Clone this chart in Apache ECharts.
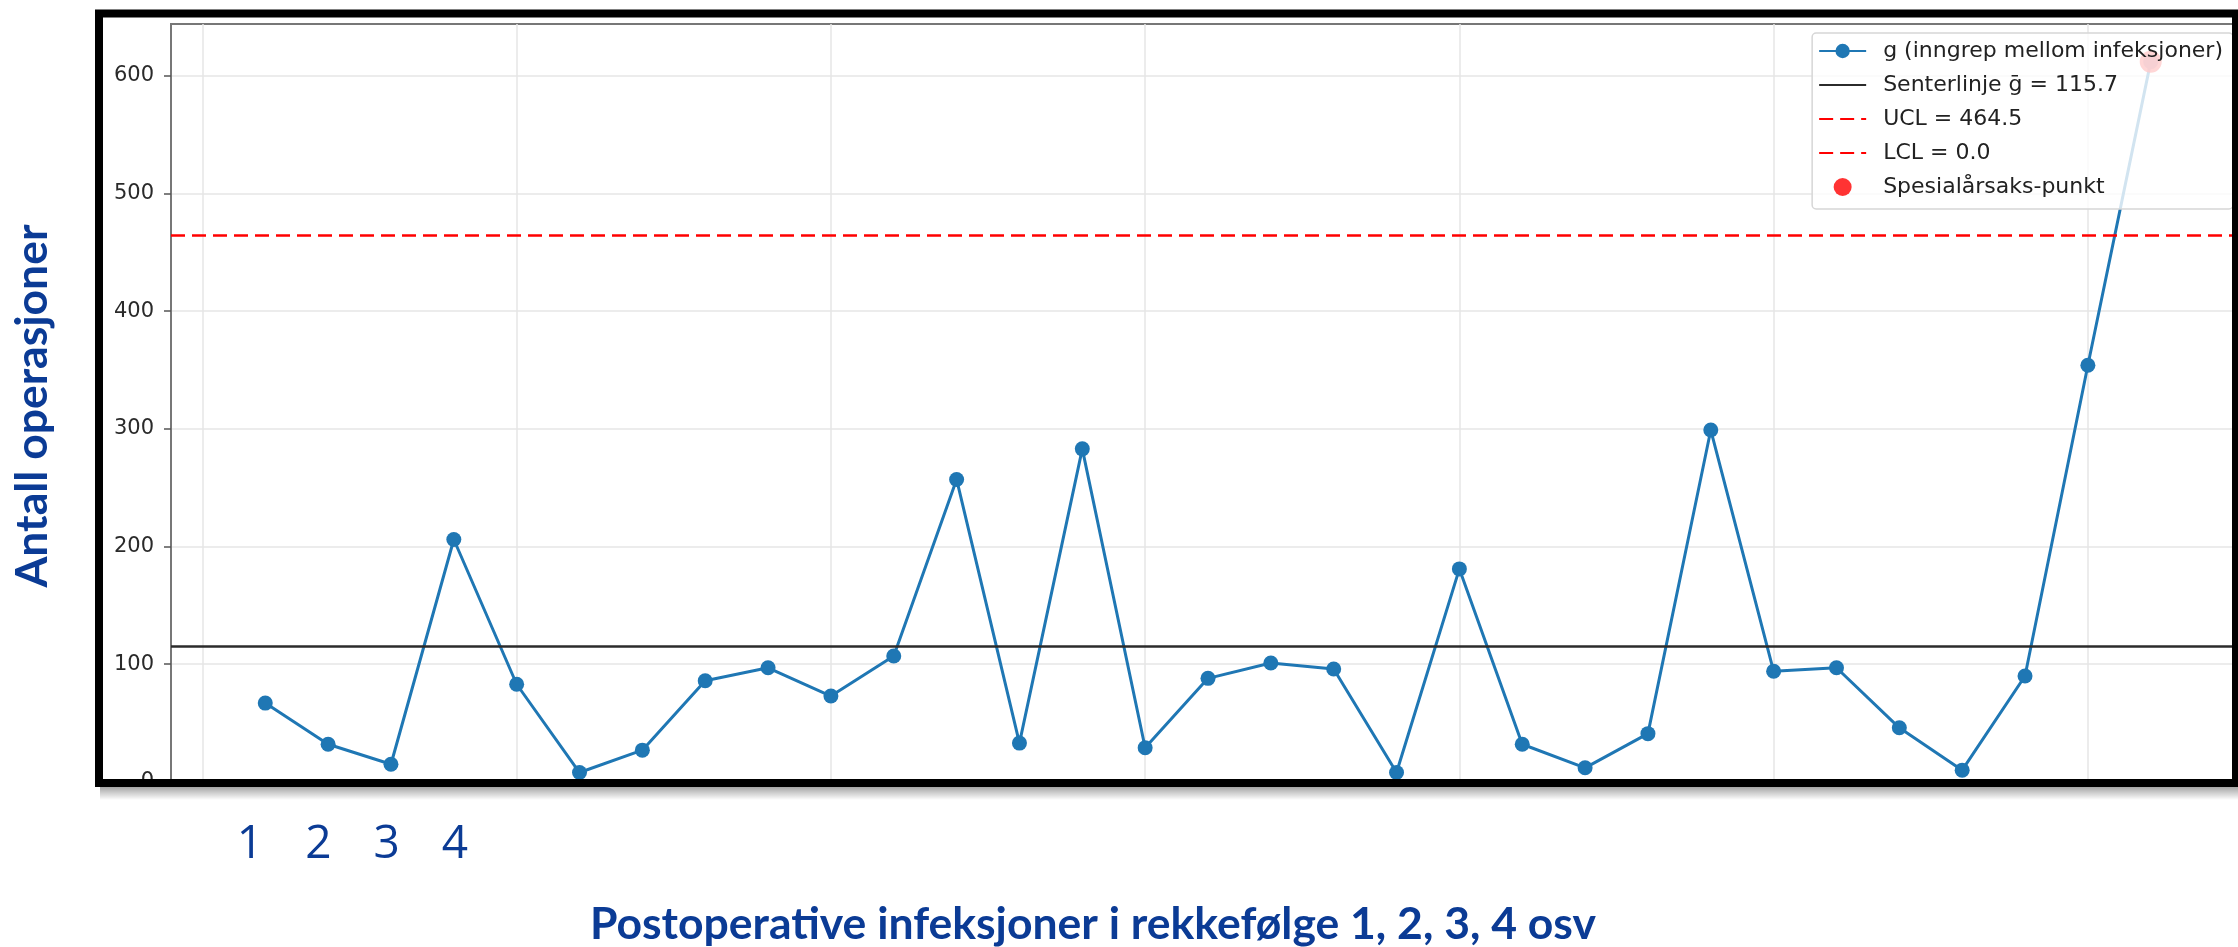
<!DOCTYPE html>
<html>
<head>
<meta charset="utf-8">
<script src="https://cdn.jsdelivr.net/npm/echarts@6/dist/echarts.min.js"></script>
<style>
html,body{margin:0;padding:0;background:#ffffff;}
#c{width:2238px;height:947px;}
</style>
</head>
<body>
<div id="c"></div>
<script>
// ---- data ----
const infectionNo = [1,2,3,4,5,6,7,8,9,10,11,12,13,14,15,16,17,18,19,20,21,22,23,24,25,26,27,28,29,30,31];
const gValues = [67,32,15,206,83,8,27,86,97,73,107,257,33,283,29,88,101,96,8,181,32,12,41,299,94,97,46,10,90,354,612];
const centerValue = 115.7;
const uclValue = 464.5;
const lclValue = 0.0;
const yTicks = [0,100,200,300,400,500,600];
const xGridTicks = [0,5,10,15,20,25,30];
const yLimits = [-23, 644];
const xLimits = [-0.5, 32.5];
const slideTickLabels = ['1','2','3','4'];
const yTitle = 'Antall operasjoner';
const xTitle = 'Postoperative infeksjoner i rekkefølge 1, 2, 3, 4 osv';
const nameG = 'g (inngrep mellom infeksjoner)';
const nameCenter = 'Senterlinje \u1E21 = ' + centerValue.toFixed(1);
const nameUCL = 'UCL = ' + uclValue.toFixed(1);
const nameLCL = 'LCL = ' + lclValue.toFixed(1);
const nameSpecial = 'Spesialårsaks-punkt';

const gData = infectionNo.map((x, i) => [x, gValues[i]]);
const specialData = gData.filter(d => d[1] > uclValue || d[1] < lclValue);

const blue = '#1f77b4';
const slideBlue = '#0b3b95';
const gridColor = '#e6e6e6';
const titleFont = "Lato, sans-serif";

const chart = echarts.init(document.getElementById('c'), null, {renderer: 'canvas'});

const hLine = (name, val, color, type) => ({
  name: name,
  type: 'line',
  data: [],
  symbol: 'none',
  lineStyle: {color: color, width: 2.5, type: type},
  itemStyle: {color: color},
  markLine: {
    silent: true,
    symbol: ['none', 'none'],
    label: {show: false},
    lineStyle: {color: color, width: 2.5, type: type},
    emphasis: {disabled: true},
    data: [{yAxis: val}]
  },
  z: 2
});

const slideLabelGraphics = slideTickLabels.map((t, i) => ({
  type: 'text',
  x: 250 + i * 68.3,
  y: 845,
  z: 110,
  silent: true,
  style: {
    text: t,
    textAlign: 'center',
    textVerticalAlign: 'middle',
    font: "46px 'Open Sans', sans-serif",
    fill: slideBlue
  }
}));

const option = {
  animation: false,
  backgroundColor: '#ffffff',
  textStyle: {fontFamily: 'DejaVu Sans'},
  grid: {
    left: 171, top: 24, right: -7, bottom: 138,
    show: true,
    borderColor: '#777777',
    borderWidth: 2,
    backgroundColor: 'transparent',
    containLabel: false,
    outerBoundsMode: 'none'
  },
  xAxis: {
    type: 'value',
    min: xLimits[0],
    max: xLimits[1],
    axisLine: {show: false, onZero: false},
    axisLabel: {show: false, customValues: xGridTicks},
    axisTick: {show: false, customValues: xGridTicks},
    splitLine: {show: true, customValues: xGridTicks, lineStyle: {color: gridColor, width: 1.5}}
  },
  yAxis: {
    type: 'value',
    min: yLimits[0],
    max: yLimits[1],
    axisLine: {show: true, onZero: false, lineStyle: {color: '#777777', width: 2}},
    axisTick: {show: true, length: 7, customValues: yTicks, lineStyle: {color: '#555555', width: 1.5}},
    axisLabel: {
      customValues: yTicks, margin: 17,
      color: '#2a2a2a', fontFamily: 'DejaVu Sans', fontSize: 21,
      formatter: '{t|{value}}',
      rich: {t: {fontSize: 21, fontFamily: 'DejaVu Sans', color: '#2a2a2a'}}
    },
    splitLine: {show: true, customValues: yTicks, lineStyle: {color: gridColor, width: 1.5}}
  },
  legend: {
    orient: 'vertical',
    right: 5,
    top: 33,
    z: 10,
    padding: [6, 10, 10, 6],
    itemWidth: 47,
    itemHeight: 18,
    itemGap: 10,
    backgroundColor: 'rgba(255,255,255,0.8)',
    borderColor: '#d6d6d6',
    borderWidth: 1.5,
    borderRadius: 4,
    selectedMode: false,
    textStyle: {fontFamily: 'DejaVu Sans', fontSize: 22, color: '#222222', lineHeight: 24, padding: [0, 0, 0, 12]},
    data: [
      nameG,
      {name: nameCenter, itemStyle: {opacity: 0}},
      {name: nameUCL, itemStyle: {opacity: 0}},
      {name: nameLCL, itemStyle: {opacity: 0}},
      nameSpecial
    ]
  },
  series: [
    {
      name: nameG,
      type: 'line',
      data: gData,
      symbol: 'circle',
      symbolSize: 15,
      lineStyle: {color: blue, width: 3},
      itemStyle: {color: blue},
      z: 3
    },
    hLine(nameCenter, centerValue, '#2b2b2b', 'solid'),
    hLine(nameUCL, uclValue, '#ff0000', [14, 7]),
    hLine(nameLCL, lclValue, '#ff0000', [14, 7]),
    {
      name: nameSpecial,
      type: 'scatter',
      data: specialData,
      symbol: 'circle',
      symbolSize: 22,
      itemStyle: {color: '#ff0000'},
      z: 3
    }
  ],
  graphic: [
    {type: 'rect', z: 90, silent: true, shape: {x: 0, y: 787, width: 2238, height: 160}, style: {fill: '#ffffff'}},
    {type: 'rect', z: 91, silent: true, shape: {x: 100, y: 787, width: 2138, height: 13},
      style: {fill: new echarts.graphic.LinearGradient(0, 0, 0, 1, [
        {offset: 0, color: 'rgba(0,0,0,0.35)'}, {offset: 1, color: 'rgba(0,0,0,0)'}])}},
    {type: 'rect', z: 100, silent: true, shape: {x: 99, y: 13.5, width: 2137, height: 769.5},
      style: {fill: 'none', stroke: '#000000', lineWidth: 8}},
    {type: 'text', z: 110, silent: true, x: 33, y: 406, rotation: Math.PI / 2,
      style: {text: yTitle, textAlign: 'center', textVerticalAlign: 'middle',
        font: "bold 44.5px " + titleFont, fill: slideBlue}},
    {type: 'text', z: 110, silent: true, x: 1093, y: 925,
      style: {text: xTitle, textAlign: 'center', textVerticalAlign: 'middle',
        font: "bold 44.5px " + titleFont, fill: slideBlue}}
  ].concat(slideLabelGraphics)
};

chart.setOption(option);
</script>
</body>
</html>
